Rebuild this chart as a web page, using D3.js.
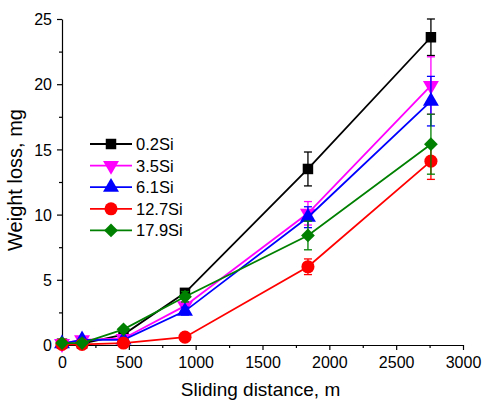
<!DOCTYPE html>
<html>
<head>
<meta charset="utf-8">
<script src="https://cdn.jsdelivr.net/npm/d3@7"></script>
<style>
  body { margin: 0; background: #fff; }
  svg text { font-family: "Liberation Sans", Arial, sans-serif; fill: #000; }
</style>
</head>
<body>
<div id="chart"></div>
<script>
// sliding distance, m
const distances = [0, 150, 460, 920, 1840, 2760];

const seriesNames = ['0.2Si', '3.5Si', '6.1Si', '12.7Si', '17.9Si'];
const seriesColors = ['#000000', '#ff00ff', '#0000ff', '#ff0000', '#008000'];
const seriesMarkers = ['square', 'triangleDown', 'triangleUp', 'circle', 'diamond'];

// weight loss, mg
const si02 = [0.1, 0.1, 0.8, 4.0, 13.5, 23.6];
const si35 = [0.1, 0.4, 0.5, 3.0, 10.1, 19.9];
const si61 = [0.1, 0.4, 0.4, 2.6, 9.8, 18.7];
const si127 = [0.05, 0.05, 0.15, 0.6, 6.0, 14.1];
const si179 = [0.15, 0.15, 1.2, 3.7, 8.4, 15.4];

// error bars, mg
const si02Err = [0, 0, 0.1, 0.3, 1.3, 1.4];
const si35Err = [0, 0, 0.1, 0.3, 0.9, 2.2];
const si61Err = [0, 0, 0.1, 0.3, 0.8, 1.9];
const si127Err = [0, 0, 0, 0.1, 0.6, 1.4];
const si179Err = [0, 0, 0.1, 0.4, 1.1, 2.3];

const xTicks = [0, 500, 1000, 1500, 2000, 2500, 3000];
const xMinor = [250, 750, 1250, 1750, 2250, 2750];
const yTicks = [0, 5, 10, 15, 20, 25];
const yMinor = [2.5, 7.5, 12.5, 17.5, 22.5];

const values = [si02, si35, si61, si127, si179];
const errors = [si02Err, si35Err, si61Err, si127Err, si179Err];

const width = 485;
const height = 401;
const margin = { top: 19, right: 22, bottom: 56, left: 62 };

const svg = d3.select('#chart')
    .append('svg')
    .attr('width', width)
    .attr('height', height);

const x = d3.scaleLinear()
    .domain([0, 3000])
    .range([margin.left, width - margin.right]);

const y = d3.scaleLinear()
    .domain([0, 25])
    .range([height - margin.bottom, margin.top]);

// axes
const xAxisGroup = svg.append('g')
    .attr('transform', `translate(0, ${height - margin.bottom})`)
    .call(d3.axisBottom(x).tickValues(xTicks).tickFormat(d3.format('d'))
        .tickSizeInner(5).tickSizeOuter(0).tickPadding(7));
svg.append('g')
    .attr('transform', `translate(0, ${height - margin.bottom})`)
    .call(d3.axisBottom(x).tickValues(xMinor).tickSize(3).tickFormat(''))
    .select('.domain').remove();

const yAxisGroup = svg.append('g')
    .attr('transform', `translate(${margin.left}, 0)`)
    .call(d3.axisLeft(y).tickValues(yTicks).tickSizeInner(5).tickSizeOuter(0).tickPadding(5));
svg.append('g')
    .attr('transform', `translate(${margin.left}, 0)`)
    .call(d3.axisLeft(y).tickValues(yMinor).tickSize(3).tickFormat(''))
    .select('.domain').remove();

svg.selectAll('.tick line, .domain')
    .attr('stroke', '#000')
    .attr('stroke-width', 1.2);
xAxisGroup.selectAll('text').attr('font-size', '16px');
yAxisGroup.selectAll('text').attr('font-size', '16px').attr('dy', '0.35em');

// axis titles
svg.append('text')
    .attr('x', x(1500) - 2)
    .attr('y', 396)
    .attr('text-anchor', 'middle')
    .attr('font-size', '19px')
    .text('Sliding distance, m');

svg.append('text')
    .attr('transform', 'translate(22, 180) rotate(-90)')
    .attr('text-anchor', 'middle')
    .attr('font-size', '20px')
    .text('Weight loss, mg');

function markerSymbol(kind) {
    switch (kind) {
        case 'square':
            return d3.symbol().type(d3.symbolSquare).size(110)();
        case 'triangleUp':
            return d3.symbol().type(d3.symbolTriangle).size(110)();
        case 'triangleDown':
            return d3.symbol().type(d3.symbolTriangle).size(110)();
        case 'circle':
            return d3.symbol().type(d3.symbolCircle).size(135)();
        case 'diamond':
            return d3.symbol().type(d3.symbolSquare).size(95)();
        default:
            return;
    }
}

function markerRotation(kind) {
    if (kind === 'triangleDown') return 180;
    if (kind === 'diamond') return 45;
    return 0;
}

const line = d3.line()
    .x(d => x(d.x))
    .y(d => y(d.y));

seriesNames.forEach((name, i) => {
    const color = seriesColors[i];
    const pts = distances.map((dist, j) => ({ x: dist, y: values[i][j], e: errors[i][j] }));
    const g = svg.append('g');

    // error bars
    const bars = g.selectAll('.err')
        .data(pts.filter(p => p.e > 0))
        .enter()
        .append('g')
        .attr('stroke', color)
        .attr('stroke-width', 1.3);
    bars.append('line')
        .attr('x1', d => x(d.x)).attr('x2', d => x(d.x))
        .attr('y1', d => y(d.y - d.e)).attr('y2', d => y(d.y + d.e));
    bars.append('line')
        .attr('x1', d => x(d.x) - 4).attr('x2', d => x(d.x) + 4)
        .attr('y1', d => y(d.y - d.e)).attr('y2', d => y(d.y - d.e));
    bars.append('line')
        .attr('x1', d => x(d.x) - 4).attr('x2', d => x(d.x) + 4)
        .attr('y1', d => y(d.y + d.e)).attr('y2', d => y(d.y + d.e));

    g.append('path')
        .datum(pts)
        .attr('fill', 'none')
        .attr('stroke', color)
        .attr('stroke-width', 1.8)
        .attr('d', line);

    g.selectAll('.pt')
        .data(pts)
        .enter()
        .append('path')
        .attr('fill', color)
        .attr('d', markerSymbol(seriesMarkers[i]))
        .attr('transform', d => `translate(${x(d.x)}, ${y(d.y)}) rotate(${markerRotation(seriesMarkers[i])})`);
});

// legend
const legend = svg.append('g');
seriesNames.forEach((name, i) => {
    const ly = 144 + i * 21.6;
    legend.append('line')
        .attr('x1', 90).attr('x2', 132)
        .attr('y1', ly).attr('y2', ly)
        .attr('stroke', seriesColors[i])
        .attr('stroke-width', 1.8);
    legend.append('path')
        .attr('fill', seriesColors[i])
        .attr('d', markerSymbol(seriesMarkers[i]))
        .attr('transform', `translate(111, ${ly}) rotate(${markerRotation(seriesMarkers[i])})`);
    legend.append('text')
        .attr('x', 136)
        .attr('y', ly)
        .attr('dy', '0.36em')
        .attr('font-size', '16.5px')
        .text(name);
});
</script>
</body>
</html>
